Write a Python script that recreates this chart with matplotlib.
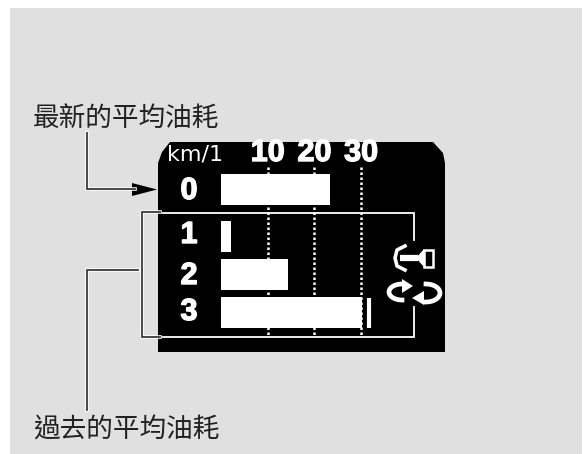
import numpy as np
import matplotlib
matplotlib.use('Agg')
import matplotlib.pyplot as plt
import matplotlib.patheffects as pe
from matplotlib.patches import Polygon, Rectangle

plt.rcParams['font.family'] = ['Noto Sans CJK TC', 'DejaVu Sans']

rows = ['0', '1', '2', '3']
values = [23.3, 2.1, 14.3, 30.2]
ticks = [10, 20, 30]
peak_row3 = 31.6
label_new = '最新的平均油耗'
label_old = '過去的平均油耗'
unit = 'km/1'

W, H = 583, 454
fig = plt.figure(figsize=(W / 100, H / 100), dpi=100, facecolor='white')

# page background, in pixel coordinates
bg = fig.add_axes([0, 0, 1, 1])
bg.set_xlim(0, W)
bg.set_ylim(H, 0)
bg.axis('off')
bg.add_patch(Rectangle((10, 8), W - 11, H - 8, color='#e0e0e0', lw=0))

# black display with cut corners
panel = [(170, 142), (433, 142), (443, 153), (445, 163), (445, 352), (158, 352),
         (158, 163), (162, 152)]
bg.add_patch(Polygon(panel, closed=True, color='black', lw=0))


def callout(xs, ys):
    bg.plot(xs, ys, color='white', lw=2.6, solid_joinstyle='miter')
    bg.plot(xs, ys, color='#3a3a3a', lw=1.3, solid_joinstyle='miter')


callout([87, 87, 135], [133, 189, 189])
bg.add_patch(Polygon([(132, 183), (157, 189.5), (132, 196)], closed=True, color='black', lw=0))
callout([87, 87, 138], [410, 270, 270])
callout([160, 141.5, 141.5, 160], [212, 212, 337, 337])

bg.text(33, 118, label_new, fontsize=19.2, color='#222222', ha='left', va='center')
bg.text(33, 430, label_old, fontsize=19.2, color='#222222', ha='left', va='center')

# bar chart axes: x 0 at px 221, 4.67 px per unit
left, right, top, bottom = 221, 445, 142, 352
ax = fig.add_axes([left / W, 1 - bottom / H, (right - left) / W, (bottom - top) / H])
ax.patch.set_alpha(0)
ax.set_xlim(0, (right - left) / 4.67)
row_y = [189.5, 237, 274.5, 313]
ax.set_ylim(bottom, top)
ax.axis('off')

thick = [pe.withStroke(linewidth=1.0, foreground='white')]
for t in ticks:
    ax.plot([t, t], [167, 335], color='white', lw=1.8, ls=(0, (1, 1)), zorder=1)
    ax.text(t, 153, str(t), color='white', fontsize=22, fontweight='bold',
            ha='center', va='center', family='Liberation Sans', path_effects=thick)
ax.barh(row_y, values, height=31, color='white', lw=0, zorder=2)
ax.plot([peak_row3, peak_row3], [298, 328], color='white', lw=3, solid_capstyle='butt', zorder=2)

for r, y in zip(rows, [191, 235, 276, 312]):
    bg.text(189, y, r, color='white', fontsize=22, fontweight='bold',
            ha='center', va='center', family='Liberation Sans', path_effects=thick)
bg.text(167, 155, unit, color='white', fontsize=16, ha='left', va='center',
        family='DejaVu Sans', zorder=5)

# frame around past rows
bg.plot([163, 414, 414], [213, 213, 240], color='white', lw=1.3, solid_joinstyle='miter', zorder=3)
bg.plot([163, 414, 414], [337, 337, 307], color='white', lw=1.3, solid_joinstyle='miter', zorder=3)

# horn icon
bg.plot([405, 397, 395, 397, 405], [246, 250, 258, 266, 270], color='white', lw=2.6, zorder=3)
bg.plot([400, 418], [258, 258], color='white', lw=4.5, solid_capstyle='butt', zorder=3)
bg.add_patch(Polygon([(416, 258), (424, 249), (424, 267)], closed=True, color='white', lw=0, zorder=3))
bg.add_patch(Rectangle((424, 250), 8.5, 17, facecolor='black', edgecolor='white', lw=1.8, zorder=3))

# recirculation icon
th = np.linspace(np.pi * 0.5, np.pi * 1.5, 24)
bg.plot(402 + 13 * np.cos(th), 292 - 8 * np.sin(th), color='white', lw=3.4, zorder=3)
bg.add_patch(Polygon([(402, 279), (413, 286), (402, 293)], closed=True, color='white', lw=0, zorder=3))
th = np.linspace(-np.pi * 0.5, np.pi * 0.5, 24)
bg.plot(426 + 14 * np.cos(th), 293 - 9 * np.sin(th), color='white', lw=3.4, zorder=3)
bg.add_patch(Polygon([(424, 291), (412, 298), (424, 305)], closed=True, color='white', lw=0, zorder=3))

fig.savefig('out.png', dpi=100)
